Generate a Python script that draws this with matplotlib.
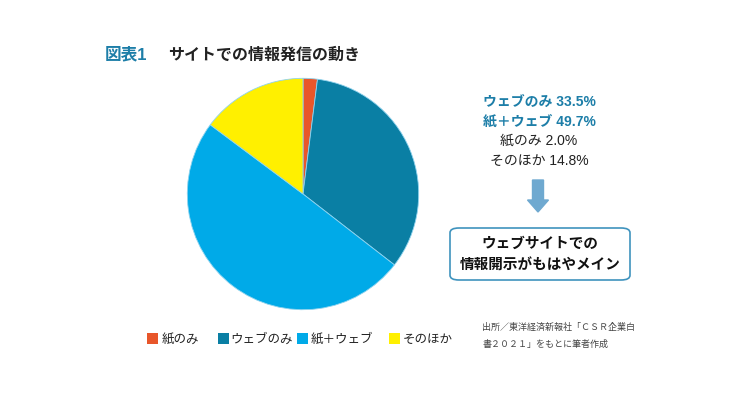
import matplotlib
matplotlib.use("Agg")
import matplotlib.pyplot as plt
from matplotlib.patches import FancyBboxPatch, FancyArrow, Rectangle

plt.rcParams['font.family'] = ['Noto Sans CJK JP', 'DejaVu Sans']

# data
labels = ["紙のみ", "ウェブのみ", "紙＋ウェブ", "そのほか"]
shares = [2.0, 33.5, 49.7, 14.8]
colors = ["#E8562A", "#0A7FA4", "#00AAE8", "#FFF000"]
summary_order = [1, 2, 0, 3]
summary_colors = ["#1D7EA8", "#1D7EA8", "#222222", "#222222"]

W, H = 750, 394
fig = plt.figure(figsize=(7.5, 3.94), dpi=100)


def fx(x):
    return x / W


def fy(y):
    return 1 - y / H


mixed = ['Liberation Sans', 'Noto Sans CJK JP']

# pie
cx, cy, r = 303, 194, 118
ax = fig.add_axes([fx(cx - r), fy(cy + r), 2 * r / W, 2 * r / H])
ax.pie(shares, colors=colors, startangle=90, counterclock=False,
       wedgeprops=dict(linewidth=0.6, edgecolor="#8fd3ee"))
ax.set_aspect("equal")
ax.set_xlim(-1.02, 1.02)
ax.set_ylim(-1.02, 1.02)
ax.axis("off")

# title
fig.text(fx(105), fy(55), "図表1", color="#1D7EA8", fontsize=12,
         fontweight="bold", va="center", family=mixed)
fig.text(fx(168), fy(55), "サイトでの情報発信の動き", color="#222222",
         fontsize=11.5, fontweight="bold", va="center")

# summary text
for i, k in enumerate(summary_order):
    fig.text(fx(539), fy(102 + i * 19.5), f"{labels[k]} {shares[k]:.1f}%",
             color=summary_colors[i], fontsize=10, family=mixed,
             fontweight="bold" if i < 2 else "normal",
             ha="center", va="center")

# arrow
fig.add_artist(FancyArrow(fx(538), fy(180), 0, fy(212) - fy(180),
                          width=11 / W, head_width=21 / W, head_length=12 / H,
                          length_includes_head=True, color="#6FA9D0",
                          transform=fig.transFigure))

# conclusion box
box = FancyBboxPatch((fx(450), fy(280)), fx(630) - fx(450), fy(228) - fy(280),
                     boxstyle="round,pad=0,rounding_size=0.012",
                     transform=fig.transFigure, facecolor="white",
                     edgecolor="#3F93BE", linewidth=1.2)
fig.add_artist(box)
fig.text(fx(540), fy(243), "ウェブサイトでの", fontsize=10.5,
         fontweight="bold", ha="center", va="center", color="#111111")
fig.text(fx(540), fy(264), "情報開示がもはやメイン", fontsize=10.5,
         fontweight="bold", ha="center", va="center", color="#111111")

# legend
leg_sq = [147, 218, 297, 389]
leg_tx = [162, 230, 311, 403]
for i, lab in enumerate(labels):
    sq = Rectangle((fx(leg_sq[i]), fy(344)), 11 / W, 11 / H,
                   transform=fig.transFigure, facecolor=colors[i],
                   edgecolor="none", zorder=5)
    fig.add_artist(sq)
    fig.text(fx(leg_tx[i]), fy(339), lab, fontsize=9, va="center",
             color="#222222")

# source
fig.text(fx(482), fy(327), "出所／東洋経済新報社「ＣＳＲ企業白", fontsize=6.5,
         va="center", color="#444444")
fig.text(fx(482), fy(344), "書２０２１」をもとに筆者作成", fontsize=6.5,
         va="center", color="#444444")

fig.savefig("out.png", dpi=100, facecolor="white")
